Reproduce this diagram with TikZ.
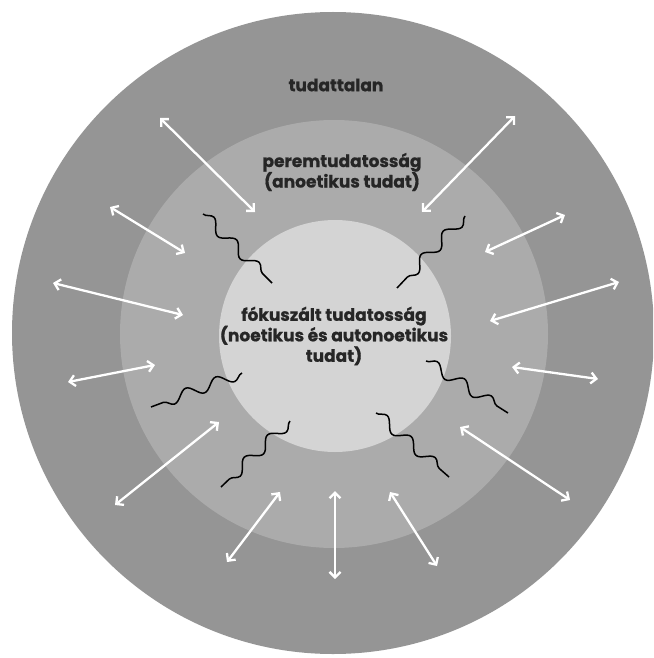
\documentclass[tikz,border=0pt]{standalone}
\usepackage{fontspec}
\setmainfont{Poppins}[BoldFont={Poppins Bold},BoldFeatures={FakeBold=0.8}]
\usetikzlibrary{arrows.meta,decorations.pathmorphing}
\definecolor{outerg}{HTML}{959595}
\definecolor{midg}{HTML}{ABABAB}
\definecolor{innerg}{HTML}{D4D4D4}
\definecolor{txt}{HTML}{262626}
\tikzset{
  dblarrow/.style={draw=white,line width=2.3pt,{Straight Barb[length=5.5pt,width=11pt]}-{Straight Barb[length=5.5pt,width=11pt]}},
  wave/.style={draw=black,line width=1.5pt,decorate,decoration={snake,segment length=32pt,amplitude=5.5pt}},
  lbl/.style={text=txt,font=\bfseries\fontsize{17}{20.5}\selectfont,align=center,inner sep=0pt}
}
\begin{document}
\begin{tikzpicture}[x=1pt,y=-1pt]
\useasboundingbox (0,0) rectangle (653,658);
\clip (0,0) rectangle (653,658);
\fill[white] (0,0) rectangle (653,658);
\fill[outerg] (333,333) circle (321);
\fill[midg] (334,334) circle (214);
\fill[innerg] (335,336) circle (116);
\node[lbl] (t1) at (336,85) {tudattalan};
\node[lbl] (t2) at (342,172) {peremtudatosság\\(anoetikus tudat)};
\node[lbl] (t3) at (334,336) {fókuszált tudatosság\\(noetikus és autonoetikus\\tudat)};
% arrow endpoints
\coordinate (a1s) at (160,118); \coordinate (a1e) at (255,212);
\coordinate (a2s) at (515,116); \coordinate (a2e) at (422,212);
\coordinate (a3s) at (110,207); \coordinate (a3e) at (185,253);
\coordinate (a4s) at (565,215); \coordinate (a4e) at (485,252);
\coordinate (a5s) at (53,283);  \coordinate (a5e) at (183,315);
\coordinate (a6s) at (619,282); \coordinate (a6e) at (490,321);
\coordinate (a7s) at (68,382);  \coordinate (a7e) at (155,365);
\coordinate (a8s) at (512,367); \coordinate (a8e) at (598,379);
\coordinate (a9s) at (115,505); \coordinate (a9e) at (219,422);
\coordinate (a10s) at (460,427); \coordinate (a10e) at (570,500);
\coordinate (a11s) at (227,562); \coordinate (a11e) at (280,492);
\coordinate (a12s) at (390,492); \coordinate (a12e) at (437,566);
\coordinate (a13s) at (335,491); \coordinate (a13e) at (335,579);
\foreach \i in {1,...,13} {\draw[dblarrow] (a\i s) -- (a\i e);}
% waves
\coordinate (w1s) at (203,214); \coordinate (w1e) at (272,283);
\coordinate (w2s) at (465,216); \coordinate (w2e) at (397,288);
\coordinate (w3s) at (242,373); \coordinate (w3e) at (151,407);
\coordinate (w4s) at (290,421); \coordinate (w4e) at (221,487);
\coordinate (w5s) at (426,361); \coordinate (w5e) at (508,413);
\coordinate (w6s) at (376,413); \coordinate (w6e) at (449,477);
\foreach \i in {1,...,6} {\draw[wave] (w\i s) -- (w\i e);}
\end{tikzpicture}
\end{document}
